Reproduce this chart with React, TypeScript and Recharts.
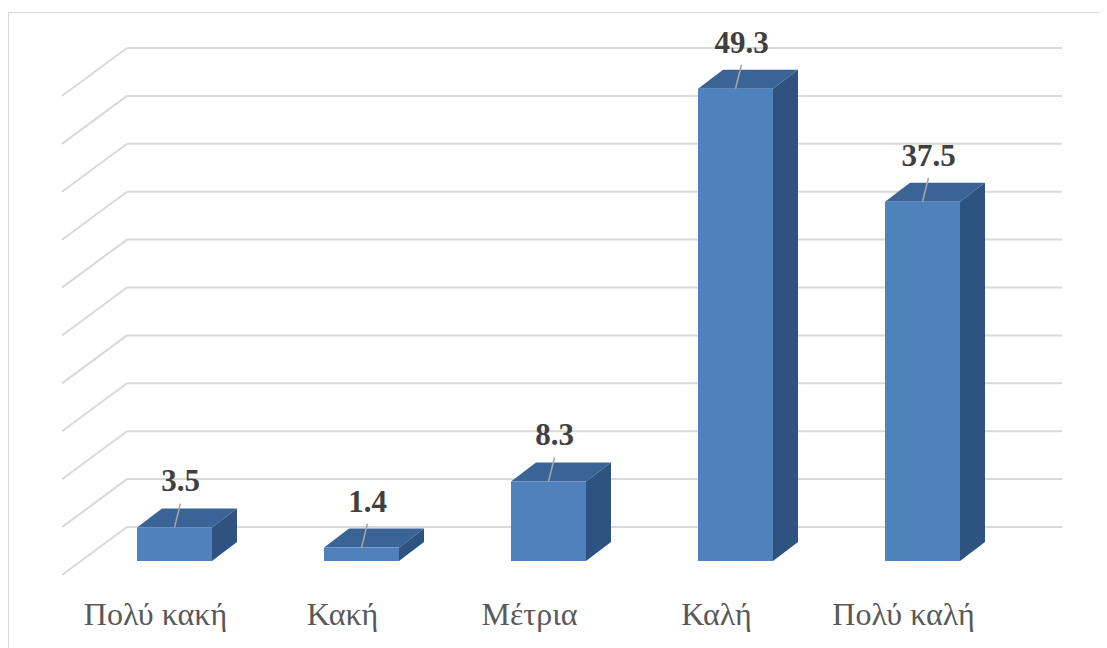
import { BarChart, Bar, XAxis, YAxis, CartesianGrid, LabelList } from 'recharts'

const categories = ['Πολύ κακή', 'Κακή', 'Μέτρια', 'Καλή', 'Πολύ καλή']
const values = [3.5, 1.4, 8.3, 49.3, 37.5]
const yTicks = [0, 5, 10, 15, 20, 25, 30, 35, 40, 45, 50]

const data = categories.map((name, i) => ({ name, value: values[i] }))

// 3D look: side wall / floor depth and the bar's own depth
const WALL_DX = 65
const WALL_DY = 48
const FRONT_DX = 46
const FRONT_DY = 34
const BAR_DX = 25
const BAR_DY = 19

const PLOT_LEFT = 119
const SERIF = 'Liberation Serif'

const FRONT = '#4f81bd'
const TOP = '#3b6496'
const SIDE = '#2f5381'

function Box(props: any) {
  const { x, y, width, height } = props
  const x0 = x - FRONT_DX
  const y0 = y + FRONT_DY
  const x1 = x0 + width
  const y1 = y0 + height
  return (
    <g>
      <polygon
        points={`${x0},${y0} ${x0 + BAR_DX},${y0 - BAR_DY} ${x1 + BAR_DX},${y0 - BAR_DY} ${x1},${y0}`}
        fill={TOP}
      />
      <polygon
        points={`${x1},${y0} ${x1 + BAR_DX},${y0 - BAR_DY} ${x1 + BAR_DX},${y1 - BAR_DY} ${x1},${y1}`}
        fill={SIDE}
      />
      <rect x={x0} y={y0} width={width} height={height} fill={FRONT} />
    </g>
  )
}

function ValueLabel(props: any) {
  const { x, y, width, value } = props
  const cx = x - FRONT_DX + width / 2
  const top = y + FRONT_DY
  return (
    <g>
      <line x1={cx} y1={top} x2={cx + 6} y2={top - 24} stroke="#a6a6a6" strokeWidth={1.5} />
      <text
        x={cx + 6}
        y={top - 36}
        textAnchor="middle"
        fontFamily={SERIF}
        fontWeight="bold"
        fontSize={31}
        fill="#404040"
      >
        {value}
      </text>
    </g>
  )
}

function SideWallTick(props: any) {
  const { y } = props
  return (
    <line
      x1={PLOT_LEFT}
      y1={y}
      x2={PLOT_LEFT - WALL_DX}
      y2={y + WALL_DY}
      stroke="#d9d9d9"
      strokeWidth={2}
    />
  )
}

function CategoryTick(props: any) {
  const { x, y, payload } = props
  return (
    <text x={x - WALL_DX} y={y + 90} textAnchor="middle" fontFamily={SERIF} fontSize={32} fill="#595959">
      {payload.value}
    </text>
  )
}

export default function App() {
  return (
    <div style={{ width: 1099, height: 640, overflow: 'hidden' }}>
      <div
        style={{
          marginTop: 4,
          width: 1120,
          height: 660,
          borderTop: '1.5px solid #d9d9d9',
          borderLeft: '1.5px solid #d9d9d9',
          boxSizing: 'border-box',
          position: 'relative'
        }}
      >
        <div style={{ position: 'absolute', left: -1.5, top: -5.5 }}>
          <BarChart
            width={1099}
            height={640}
            data={data}
            margin={{ top: 40, right: 45, left: 0, bottom: 61 }}
          >
            <CartesianGrid vertical={false} stroke="#d9d9d9" strokeWidth={2} />
            <YAxis
              width={PLOT_LEFT}
              domain={[0, 50]}
              ticks={yTicks}
              axisLine={false}
              tickLine={false}
              tick={<SideWallTick />}
            />
            <XAxis
              dataKey="name"
              height={60}
              axisLine={false}
              tickLine={false}
              tick={<CategoryTick />}
            />
            <Bar dataKey="value" barSize={75} shape={<Box />} isAnimationActive={false}>
              <LabelList dataKey="value" content={<ValueLabel />} />
            </Bar>
          </BarChart>
        </div>
      </div>
    </div>
  )
}
